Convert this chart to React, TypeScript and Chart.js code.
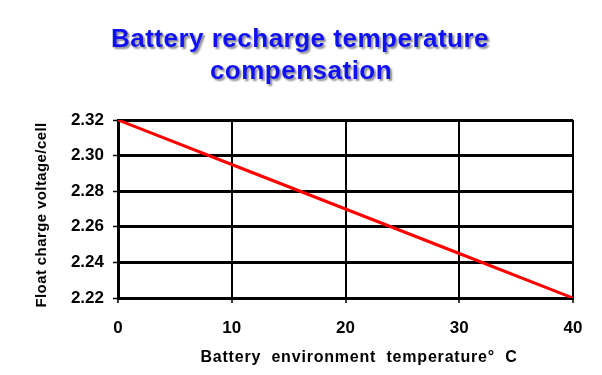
import React, { useEffect, useRef } from "react";
import { Chart, registerables } from "chart.js";

Chart.register(...registerables);

const titleLines = ["Battery recharge temperature", "compensation"];
const xAxisTitle = "Battery environment temperature° C";
const yAxisTitle = "Float charge voltage/cell";
const temperatures = [0, 10, 20, 30, 40];
const voltages = [2.32, 2.295, 2.27, 2.245, 2.22];
const xTicks = [0, 10, 20, 30, 40];
const yTicks = [2.22, 2.24, 2.26, 2.28, 2.3, 2.32];

const FONT = '"Liberation Sans", Arial, sans-serif';

const textPlugin = {
  id: "textPlugin",
  afterDraw(chart: any) {
    const ctx = chart.ctx as CanvasRenderingContext2D;
    ctx.save();
    // title
    ctx.font = `bold 26px ${FONT}`;
    ctx.textAlign = "center";
    ctx.textBaseline = "alphabetic";
    (ctx as any).letterSpacing = "0.5px";
    ctx.fillStyle = "#1010F5";
    ctx.shadowColor = "rgba(0,0,0,0.45)";
    ctx.shadowOffsetX = 2;
    ctx.shadowOffsetY = 2;
    ctx.shadowBlur = 2;
    ctx.fillText(titleLines[0], 300, 47);
    ctx.fillText(titleLines[1], 301, 79);
    ctx.restore();

    ctx.save();
    ctx.font = `bold 16px ${FONT}`;
    ctx.fillStyle = "#000";
    ctx.textAlign = "center";
    ctx.textBaseline = "alphabetic";
    (ctx as any).letterSpacing = "0.8px";
    (ctx as any).wordSpacing = "5px";
    ctx.fillText(xAxisTitle, 359, 362);
    ctx.restore();

    ctx.save();
    ctx.font = `bold 15px ${FONT}`;
    ctx.fillStyle = "#000";
    ctx.textAlign = "center";
    ctx.textBaseline = "middle";
    (ctx as any).letterSpacing = "0.4px";
    ctx.translate(42, 215);
    ctx.rotate(-Math.PI / 2);
    ctx.fillText(yAxisTitle, 0, 0);
    ctx.restore();
  },
};

export default function App() {
  const ref = useRef<HTMLCanvasElement>(null);
  useEffect(() => {
    const chart = new Chart(ref.current!, {
      type: "line",
      data: {
        datasets: [
          {
            data: temperatures.map((t, i) => ({ x: t, y: voltages[i] })),
            borderColor: "#FF0000",
            borderWidth: 3,
            pointRadius: 0,
            tension: 0,
          },
        ],
      },
      options: {
        responsive: false,
        animation: false,
        layout: { padding: { top: 120, right: 29, left: 0, bottom: 0 } },
        plugins: { legend: { display: false }, tooltip: { enabled: false }, title: { display: false } },
        scales: {
          x: {
            type: "linear",
            min: 0,
            max: 40,
            afterBuildTicks: (s: any) => {
              s.ticks = xTicks.map((v) => ({ value: v }));
            },
            afterFit: (s: any) => {
              s.height = 77;
            },
            ticks: {
              color: "#000",
              font: { family: FONT, size: 17, weight: "bold" },
              padding: 15,
              maxRotation: 0,
              callback: (v: any) => String(v),
            },
            grid: { color: "#000", lineWidth: 2, tickLength: 5, tickColor: "#000", tickWidth: 1.5 },
            border: { color: "#000", width: 3 },
          },
          y: {
            type: "linear",
            min: 2.22,
            max: 2.32,
            afterBuildTicks: (s: any) => {
              s.ticks = yTicks.map((v) => ({ value: v }));
            },
            afterFit: (s: any) => {
              s.width = 118;
            },
            ticks: {
              color: "#000",
              font: { family: FONT, size: 17, weight: "bold" },
              padding: 9,
              callback: (v: any) => Number(v).toFixed(2),
            },
            grid: { color: "#000", lineWidth: 3, tickLength: 5, tickColor: "#000", tickWidth: 1.5 },
            border: { color: "#000", width: 3 },
          },
        },
      },
      plugins: [textPlugin],
    } as any);
    return () => chart.destroy();
  }, []);
  return (
    <div style={{ position: "absolute", left: 0, top: 0, width: 602, height: 375 }}>
      <canvas ref={ref} width={602} height={375} style={{ width: 602, height: 375, display: "block" }} />
    </div>
  );
}
